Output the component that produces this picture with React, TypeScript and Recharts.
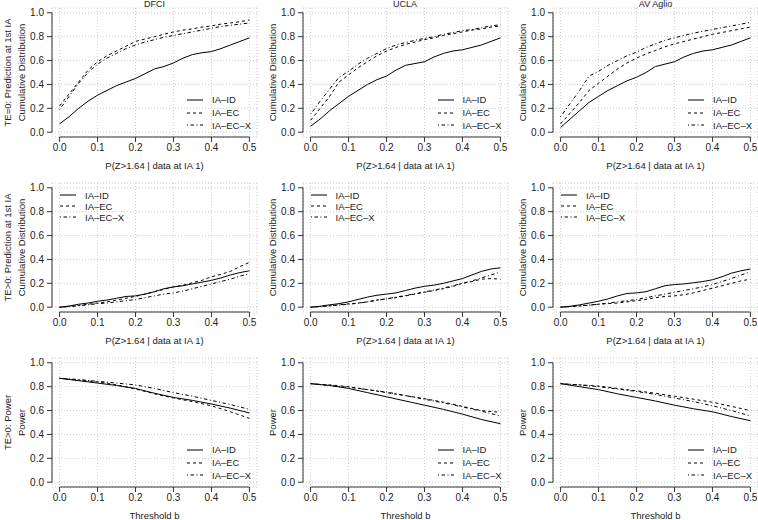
import React from "react"
import { LineChart, Line, XAxis, YAxis, CartesianGrid, ReferenceLine, Legend } from "recharts"

const FONT = "'Liberation Sans', Arial, Helvetica, sans-serif"

const sites = ["DFCI", "UCLA", "AV Aglio"]
const seriesKeys = ["id", "ec", "ecx"]
const seriesNames = ["IA–ID", "IA–EC", "IA–EC–X"]
const seriesDash = ["", "3 3", "1 2.5 3.5 2.5"]

const xTicks = [0, 0.1, 0.2, 0.3, 0.4, 0.5]
const yTicks = [0, 0.2, 0.4, 0.6, 0.8, 1.0]

// grid of P(Z>1.64 | data at IA 1) values
const probGrid = [0, 0.025, 0.05, 0.075, 0.1, 0.125, 0.15, 0.175, 0.2, 0.225, 0.25, 0.275, 0.3, 0.325, 0.35, 0.375, 0.4, 0.425, 0.45, 0.475, 0.5]
// grid of threshold b values
const thresholdGrid = [0, 0.05, 0.1, 0.15, 0.2, 0.25, 0.3, 0.35, 0.4, 0.45, 0.5]

// TE=0 cumulative distribution
const dfciNullId = [0.07, 0.13, 0.2, 0.26, 0.31, 0.35, 0.39, 0.42, 0.45, 0.49, 0.53, 0.55, 0.58, 0.62, 0.65, 0.665, 0.675, 0.7, 0.73, 0.76, 0.79]
const dfciNullEc = [0.22, 0.32, 0.42, 0.52, 0.59, 0.64, 0.68, 0.72, 0.76, 0.78, 0.8, 0.82, 0.84, 0.855, 0.865, 0.88, 0.89, 0.905, 0.915, 0.925, 0.94]
const dfciNullEcx = [0.19, 0.3, 0.41, 0.5, 0.57, 0.62, 0.66, 0.7, 0.73, 0.755, 0.775, 0.795, 0.81, 0.825, 0.84, 0.855, 0.87, 0.885, 0.895, 0.905, 0.915]
const uclaNullId = [0.05, 0.11, 0.18, 0.24, 0.3, 0.35, 0.4, 0.44, 0.47, 0.52, 0.56, 0.575, 0.59, 0.63, 0.66, 0.68, 0.69, 0.71, 0.73, 0.76, 0.79]
const uclaNullEc = [0.1, 0.2, 0.3, 0.42, 0.48, 0.54, 0.59, 0.64, 0.68, 0.71, 0.735, 0.755, 0.775, 0.79, 0.81, 0.825, 0.84, 0.855, 0.865, 0.88, 0.89]
const uclaNullEcx = [0.15, 0.26, 0.36, 0.46, 0.51, 0.57, 0.62, 0.66, 0.7, 0.73, 0.75, 0.77, 0.785, 0.8, 0.82, 0.835, 0.85, 0.86, 0.875, 0.89, 0.9]
const avNullId = [0.04, 0.11, 0.18, 0.25, 0.3, 0.35, 0.39, 0.43, 0.46, 0.5, 0.55, 0.57, 0.59, 0.63, 0.66, 0.68, 0.69, 0.71, 0.73, 0.76, 0.79]
const avNullEc = [0.07, 0.16, 0.25, 0.35, 0.41, 0.47, 0.53, 0.58, 0.62, 0.655, 0.685, 0.715, 0.74, 0.76, 0.78, 0.8, 0.82, 0.835, 0.85, 0.865, 0.88]
const avNullEcx = [0.13, 0.24, 0.35, 0.47, 0.51, 0.56, 0.6, 0.64, 0.67, 0.71, 0.74, 0.77, 0.79, 0.81, 0.83, 0.845, 0.86, 0.875, 0.89, 0.905, 0.92]

// TE>0 cumulative distribution
const dfciAltId = [0, 0.01, 0.025, 0.035, 0.05, 0.06, 0.075, 0.09, 0.095, 0.11, 0.13, 0.155, 0.17, 0.18, 0.195, 0.21, 0.225, 0.245, 0.27, 0.29, 0.305]
const dfciAltEc = [0, 0.007, 0.015, 0.025, 0.035, 0.045, 0.06, 0.075, 0.09, 0.11, 0.13, 0.15, 0.17, 0.185, 0.205, 0.225, 0.255, 0.275, 0.3, 0.34, 0.375]
const dfciAltEcx = [0, 0.005, 0.012, 0.02, 0.03, 0.035, 0.045, 0.055, 0.065, 0.08, 0.095, 0.11, 0.12, 0.135, 0.155, 0.175, 0.195, 0.215, 0.235, 0.26, 0.28]
const uclaAltId = [0, 0.008, 0.02, 0.03, 0.045, 0.065, 0.085, 0.1, 0.11, 0.12, 0.14, 0.16, 0.175, 0.185, 0.2, 0.22, 0.24, 0.27, 0.3, 0.32, 0.33]
const uclaAltEc = [0, 0.006, 0.012, 0.02, 0.028, 0.035, 0.045, 0.06, 0.07, 0.08, 0.095, 0.11, 0.125, 0.14, 0.155, 0.175, 0.2, 0.215, 0.235, 0.24, 0.235]
const uclaAltEcx = [0, 0.005, 0.012, 0.018, 0.025, 0.033, 0.045, 0.058, 0.07, 0.085, 0.098, 0.113, 0.128, 0.143, 0.16, 0.18, 0.2, 0.22, 0.245, 0.27, 0.295]
const avAltId = [0, 0.008, 0.02, 0.035, 0.05, 0.07, 0.095, 0.115, 0.12, 0.13, 0.155, 0.18, 0.19, 0.195, 0.205, 0.215, 0.23, 0.255, 0.285, 0.305, 0.32]
const avAltEc = [0, 0.005, 0.01, 0.017, 0.025, 0.03, 0.035, 0.045, 0.055, 0.065, 0.08, 0.09, 0.095, 0.105, 0.12, 0.14, 0.16, 0.18, 0.2, 0.22, 0.235]
const avAltEcx = [0, 0.006, 0.012, 0.018, 0.025, 0.035, 0.045, 0.055, 0.065, 0.08, 0.095, 0.11, 0.125, 0.14, 0.155, 0.17, 0.19, 0.215, 0.24, 0.27, 0.295]

// TE>0 power by threshold
const dfciPowerId = [0.87, 0.85, 0.83, 0.81, 0.785, 0.745, 0.71, 0.685, 0.655, 0.62, 0.58]
const dfciPowerEc = [0.87, 0.855, 0.84, 0.815, 0.78, 0.74, 0.705, 0.675, 0.64, 0.59, 0.535]
const dfciPowerEcx = [0.87, 0.86, 0.845, 0.83, 0.815, 0.785, 0.75, 0.72, 0.685, 0.65, 0.61]
const uclaPowerId = [0.825, 0.81, 0.785, 0.75, 0.715, 0.68, 0.645, 0.61, 0.57, 0.525, 0.49]
const uclaPowerEc = [0.825, 0.815, 0.8, 0.775, 0.75, 0.725, 0.7, 0.67, 0.635, 0.6, 0.585]
const uclaPowerEcx = [0.825, 0.81, 0.795, 0.775, 0.755, 0.725, 0.695, 0.665, 0.63, 0.595, 0.555]
const avPowerId = [0.825, 0.8, 0.775, 0.74, 0.71, 0.68, 0.645, 0.615, 0.59, 0.55, 0.515]
const avPowerEc = [0.825, 0.815, 0.805, 0.785, 0.765, 0.745, 0.72, 0.695, 0.67, 0.635, 0.6]
const avPowerEcx = [0.825, 0.815, 0.8, 0.78, 0.76, 0.735, 0.705, 0.675, 0.64, 0.6, 0.555]

const probLabel = "P(Z>1.64 | data at IA 1)"
const thresholdLabel = "Threshold b"

const panels = [
  { row: 0, col: 0, x: probGrid, s: [dfciNullId, dfciNullEc, dfciNullEcx], ylab: ["TE=0: Prediction at 1st IA", "Cumulative Distribution"], xlab: probLabel },
  { row: 0, col: 1, x: probGrid, s: [uclaNullId, uclaNullEc, uclaNullEcx], ylab: ["Cumulative Distribution"], xlab: probLabel },
  { row: 0, col: 2, x: probGrid, s: [avNullId, avNullEc, avNullEcx], ylab: ["Cumulative Distribution"], xlab: probLabel },
  { row: 1, col: 0, x: probGrid, s: [dfciAltId, dfciAltEc, dfciAltEcx], ylab: ["TE>0: Prediction at 1st IA", "Cumulative Distribution"], xlab: probLabel },
  { row: 1, col: 1, x: probGrid, s: [uclaAltId, uclaAltEc, uclaAltEcx], ylab: ["Cumulative Distribution"], xlab: probLabel },
  { row: 1, col: 2, x: probGrid, s: [avAltId, avAltEc, avAltEcx], ylab: ["Cumulative Distribution"], xlab: probLabel },
  { row: 2, col: 0, x: thresholdGrid, s: [dfciPowerId, dfciPowerEc, dfciPowerEcx], ylab: ["TE>0: Power", "Power"], xlab: thresholdLabel },
  { row: 2, col: 1, x: thresholdGrid, s: [uclaPowerId, uclaPowerEc, uclaPowerEcx], ylab: ["Power"], xlab: thresholdLabel },
  { row: 2, col: 2, x: thresholdGrid, s: [avPowerId, avPowerEc, avPowerEcx], ylab: ["Power"], xlab: thresholdLabel },
]

const COL_W = 250.5
const ROW_H = 175
const fmt = (v: number) => v.toFixed(1)

const makeLegend = (rowH: number) => (props: any) => {
  const items = (props.payload || [])
    .slice()
    .sort((a: any, b: any) => seriesKeys.indexOf(a.dataKey) - seriesKeys.indexOf(b.dataKey))
  return (
    <div style={{ fontFamily: FONT, fontSize: 9.5, color: "#222" }}>
      {items.map((entry: any) => (
        <div key={entry.dataKey} style={{ display: "flex", alignItems: "center", height: rowH, whiteSpace: "nowrap" }}>
          <svg width={16} height={4} style={{ marginRight: 9 }}>
            <line x1={0} y1={2} x2={16} y2={2} stroke="#000" strokeWidth={1} strokeDasharray={seriesDash[seriesKeys.indexOf(entry.dataKey)]} />
          </svg>
          <span>{entry.value}</span>
        </div>
      ))}
    </div>
  )
}

const makeYLabel = (lines: string[]) => (props: any) => {
  const vb = props.viewBox || { y: 8, height: 129 }
  const cy = vb.y + vb.height / 2
  const xs = lines.length === 2 ? [8, 21.5] : [21.5]
  return (
    <g>
      {lines.map((t, i) => (
        <text key={t} x={xs[i]} y={cy} dy="0.35em" transform={`rotate(-90, ${xs[i]}, ${cy})`} textAnchor="middle" fontFamily={FONT} fontSize={9.5} fill="#222">
          {t}
        </text>
      ))}
    </g>
  )
}

const makeXLabel = (text: string) => (props: any) => {
  const vb = props.viewBox || { x: 52, y: 137, width: 205 }
  return (
    <text x={vb.x + vb.width / 2} y={vb.y + 31.5} textAnchor="middle" fontFamily={FONT} fontSize={9.5} fill="#222">
      {text}
    </text>
  )
}

function Panel({ p }: { p: any }) {
  const data = p.x.map((v: number, i: number) => ({ x: v, id: p.s[0][i], ec: p.s[1][i], ecx: p.s[2][i] }))
  const legendPos = p.row === 1 ? { left: 60, top: 14.5, rowH: 11 } : { left: 187, top: 93.5, rowH: 12.8 }
  const tickStyle = { fill: "#222", fontSize: 10, fontFamily: FONT }
  return (
    <div style={{ position: "absolute", left: p.col * COL_W, top: p.row * ROW_H }}>
      <LineChart width={262} height={175} data={data} margin={{ top: 8, right: 5, bottom: 0, left: 0 }}>
        <CartesianGrid stroke="#cccccc" strokeDasharray="1 2" />
        <XAxis
          type="number"
          dataKey="x"
          domain={[-0.02, 0.52]}
          ticks={xTicks}
          tickFormatter={fmt}
          height={38}
          tickSize={5}
          tickMargin={2}
          axisLine={false}
          tickLine={{ stroke: "#333" }}
          tick={tickStyle}
          interval={0}
          label={makeXLabel(p.xlab)}
        />
        <YAxis
          type="number"
          domain={[-0.04, 1.04]}
          ticks={yTicks}
          tickFormatter={fmt}
          width={52}
          tickSize={5}
          tickMargin={3}
          axisLine={false}
          tickLine={{ stroke: "#333" }}
          tick={tickStyle}
          interval={0}
          label={makeYLabel(p.ylab)}
        />
        <ReferenceLine segment={[{ x: 0, y: -0.04 }, { x: 0.5, y: -0.04 }]} stroke="#333" ifOverflow="visible" />
        <ReferenceLine segment={[{ x: -0.02, y: 0 }, { x: -0.02, y: 1 }]} stroke="#333" ifOverflow="visible" />
        {seriesKeys.map((k, i) => (
          <Line
            key={k}
            type="linear"
            dataKey={k}
            name={seriesNames[i]}
            stroke="#000"
            strokeWidth={1}
            strokeDasharray={seriesDash[i] || undefined}
            dot={false}
            activeDot={false}
            isAnimationActive={false}
          />
        ))}
        <Legend
          layout="vertical"
          align="center"
          verticalAlign="middle"
          wrapperStyle={{ left: legendPos.left, top: legendPos.top, width: "auto" }}
          content={makeLegend(legendPos.rowH)}
        />
      </LineChart>
    </div>
  )
}

export default function App() {
  return (
    <div style={{ position: "absolute", left: 0, top: 0, width: 758, height: 520, background: "#fff", overflow: "hidden" }}>
      {panels.map((p) => (
        <Panel key={`${p.row}-${p.col}`} p={p} />
      ))}
      {sites.map((s, i) => (
        <div
          key={s}
          style={{ position: "absolute", left: i * COL_W + 154.5 - 50, top: -1, width: 100, textAlign: "center", fontFamily: FONT, fontSize: 9, color: "#222" }}
        >
          {s}
        </div>
      ))}
    </div>
  )
}
